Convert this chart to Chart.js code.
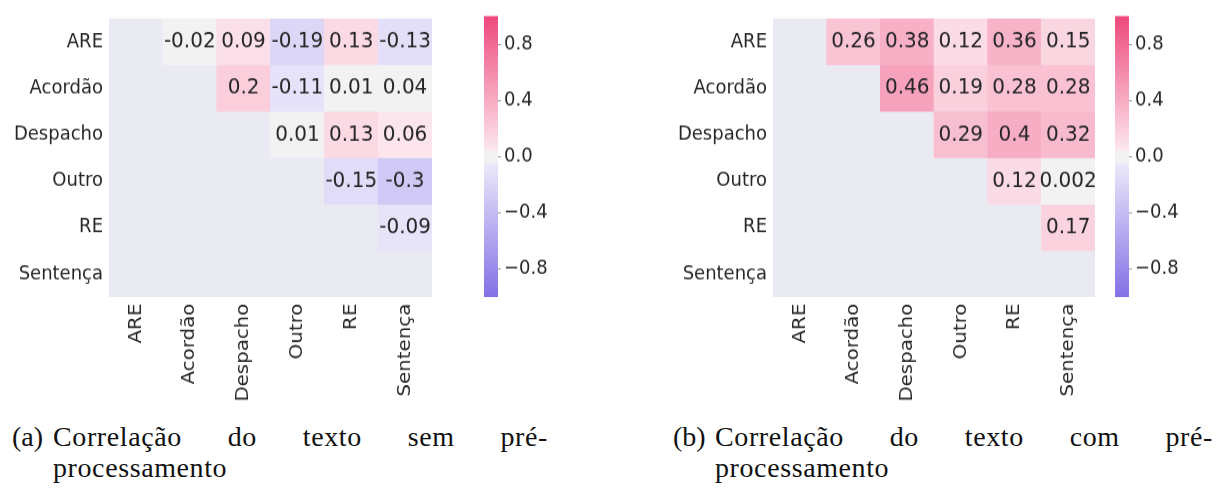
<!DOCTYPE html>
<html>
<head>
<meta charset="utf-8">
<script src="https://cdn.jsdelivr.net/npm/chart.js@4"></script>
<style>
  html, body { margin: 0; padding: 0; background: #ffffff; }
  body { width: 1222px; height: 488px; position: relative; overflow: hidden; }
  /* the source figure is slightly stretched vertically */
  canvas { position: absolute; top: 0; transform: scaleY(1.1); transform-origin: 0 0; }
  .cap-tag, .cap-line1, .cap-line2 {
    position: absolute;
    font-family: "Liberation Serif", serif;
    font-size: 28px;
    letter-spacing: 0.6px;
    color: #111;
    white-space: nowrap;
    line-height: 31px;
  }
  .cap-tag { letter-spacing: 0; }
  .cap-line1 { text-align: justify; text-align-last: justify; white-space: normal; }
</style>
</head>
<body>
<canvas id="heat-sem" width="440" height="373" style="left:0px"></canvas>
<canvas id="cbar-sem" width="100" height="373" style="left:470px"></canvas>
<canvas id="heat-com" width="440" height="373" style="left:660px"></canvas>
<canvas id="cbar-com" width="100" height="373" style="left:1101px"></canvas>

<div class="cap-tag" style="left:12px; top:421px">(a)</div>
<div class="cap-line1" id="cap-sem-1" style="left:53px; top:421px; width:495px"></div>
<div class="cap-line2" id="cap-sem-2" style="left:53px; top:452px"></div>

<div class="cap-tag" style="left:673px; top:421px">(b)</div>
<div class="cap-line1" id="cap-com-1" style="left:715px; top:421px; width:498px"></div>
<div class="cap-line2" id="cap-com-2" style="left:715px; top:452px"></div>

<script>
// ───────────────────────── DATA ─────────────────────────
const rowLabels = ["ARE", "Acordão", "Despacho", "Outro", "RE", "Sentença"];
const colLabels = ["ARE", "Acordão", "Despacho", "Outro", "RE", "Sentença"];

// upper triangle only, null = masked cell
const corrSem = [
    [null, -0.02, 0.09, -0.19, 0.13, -0.13],
    [null, null,  0.2,  -0.11, 0.01, 0.04],
    [null, null,  null,  0.01, 0.13, 0.06],
    [null, null,  null,  null, -0.15, -0.3],
    [null, null,  null,  null,  null, -0.09],
    [null, null,  null,  null,  null,  null]
];
const corrCom = [
    [null, 0.26, 0.38, 0.12, 0.36, 0.15],
    [null, null, 0.46, 0.19, 0.28, 0.28],
    [null, null, null, 0.29, 0.4,  0.32],
    [null, null, null, null, 0.12, 0.002],
    [null, null, null, null, null, 0.17],
    [null, null, null, null, null, null]
];

const cbarTicks = [-0.8, -0.4, 0, 0.4, 0.8];

const captionSem = ["Correlação do texto sem pré-", "processamento"];
const captionCom = ["Correlação do texto com pré-", "processamento"];

// ───────────────────────── COLORMAP ─────────────────────────
const cmapPos = [-1, -0.045, -0.045, 0.045, 0.045, 1];
const cmapRgb = [[132, 112, 230], [236, 234, 250], [242, 242, 242], [242, 242, 242], [252, 232, 238], [238, 72, 124]];

function cmap(v) {
    for (let i = 0; i < cmapPos.length - 1; i++) {
        const a = cmapPos[i], b = cmapPos[i + 1];
        if (b > a && v >= a && v <= b) {
            const t = (v - a) / (b - a);
            const c = cmapRgb[i].map((x, k) => Math.round(x + (cmapRgb[i + 1][k] - x) * t));
            return `rgb(${c[0]},${c[1]},${c[2]})`;
        }
    }
    return "rgb(242,242,242)";
}

const textColor = "#262626";
const axesBg    = "#eaeaf2";

// canvas units (before the 1.1 vertical stretch)
const padTop    = 14.5;
const xAxisH    = 103;

// ───────────────────────── PLUGINS ─────────────────────────
const areaBg = {
    id: "areaBg",
    beforeDatasetsDraw(chart) {
        const { ctx, chartArea: a } = chart;
        ctx.save();
        ctx.fillStyle = axesBg;
        ctx.fillRect(a.left, a.top, a.right - a.left, a.bottom - a.top);
        ctx.restore();
    }
};

function cellLabels(matrix) {
    return {
        id: "cellLabels",
        afterDatasetsDraw(chart) {
            const ctx = chart.ctx;
            ctx.save();
            ctx.font = "20px 'DejaVu Sans'";
            ctx.fillStyle = textColor;
            ctx.textAlign = "center";
            ctx.textBaseline = "middle";
            matrix.forEach((row, r) => {
                const meta = chart.getDatasetMeta(r);
                row.forEach((v, c) => {
                    if (v === null) return;
                    const el = meta.data[c];
                    ctx.fillText(String(v), el.x, (el.y + el.base) / 2);
                });
            });
            ctx.restore();
        }
    };
}

// ───────────────────────── HEATMAP ─────────────────────────
function makeHeatmap(id, matrix, yAxisWidth, rightPad) {
    new Chart(document.getElementById(id), {
        type: "bar",
        data: {
            labels: colLabels,
            datasets: rowLabels.map((name, r) => ({
                label: name,
                data: colLabels.map(() => 1),   // each cell is one unit tall
                backgroundColor: (c) => {
                    const v = matrix[r][c.dataIndex];
                    return v === null ? "rgba(0,0,0,0)" : cmap(v);
                },
                borderWidth: 0,
                barPercentage: 1,
                categoryPercentage: 1
            }))
        },
        options: {
            responsive: false,
            animation: false,
            layout: { padding: { top: padTop, right: rightPad, left: 0, bottom: 0 } },
            plugins: { legend: { display: false }, tooltip: { enabled: false } },
            scales: {
                x: {
                    stacked: true,
                    grid: { display: false, drawTicks: false },
                    border: { display: false },
                    ticks: {
                        color: textColor,
                        font: { family: "DejaVu Sans", size: 18 },
                        minRotation: 90, maxRotation: 90,
                        padding: 6, autoSkip: false
                    },
                    afterFit: (s) => { s.height = xAxisH; }
                },
                y: {
                    type: "linear",
                    stacked: true,
                    reverse: true,
                    min: 0, max: rowLabels.length,
                    grid: { display: false, drawTicks: false },
                    border: { display: false },
                    ticks: {
                        color: textColor,
                        font: { family: "DejaVu Sans", size: 18 },
                        padding: 6, autoSkip: false,
                        callback: (v) => rowLabels[Math.floor(v)]
                    },
                    afterBuildTicks: (s) => { s.ticks = rowLabels.map((_, i) => ({ value: i + 0.5 })); },
                    afterFit: (s) => { s.width = yAxisWidth; }
                }
            }
        },
        plugins: [areaBg, cellLabels(matrix)]
    });
}

// ───────────────────────── COLORBAR ─────────────────────────
function makeColorbar(id) {
    new Chart(document.getElementById(id), {
        type: "bar",
        data: {
            labels: [""],
            datasets: [{
                data: [[-1, 1]],
                backgroundColor: (c) => {
                    const a = c.chart.chartArea;
                    if (!a) return null;
                    const g = c.chart.ctx.createLinearGradient(0, a.bottom, 0, a.top);
                    cmapPos.forEach((p, i) => g.addColorStop((p + 1) / 2, `rgb(${cmapRgb[i].join(",")})`));
                    return g;
                },
                borderWidth: 0,
                barPercentage: 1,
                categoryPercentage: 1
            }]
        },
        options: {
            responsive: false,
            animation: false,
            layout: { padding: { top: padTop, left: 14, right: 0, bottom: xAxisH } },
            plugins: { legend: { display: false }, tooltip: { enabled: false } },
            scales: {
                x: { display: false },
                y: {
                    position: "right",
                    min: -1, max: 1,
                    grid: { display: true, drawOnChartArea: false, drawTicks: true, tickLength: 3, color: "#9a9a9a" },
                    border: { display: false },
                    ticks: {
                        color: textColor,
                        font: { family: "DejaVu Sans", size: 18 },
                        padding: 3,
                        callback: (v) => (v < 0 ? "\u2212" : "") + Math.abs(v).toFixed(1)
                    },
                    afterBuildTicks: (s) => { s.ticks = cbarTicks.map(v => ({ value: v })); },
                    afterFit: (s) => { s.width = 72; }
                }
            }
        }
    });
}

makeHeatmap("heat-sem", corrSem, 109, 8);
makeHeatmap("heat-com", corrCom, 113, 5);
makeColorbar("cbar-sem");
makeColorbar("cbar-com");

// ───────────────────────── CAPTIONS ─────────────────────────
document.getElementById("cap-sem-1").textContent = captionSem[0];
document.getElementById("cap-sem-2").textContent = captionSem[1];
document.getElementById("cap-com-1").textContent = captionCom[0];
document.getElementById("cap-com-2").textContent = captionCom[1];
</script>
</body>
</html>
